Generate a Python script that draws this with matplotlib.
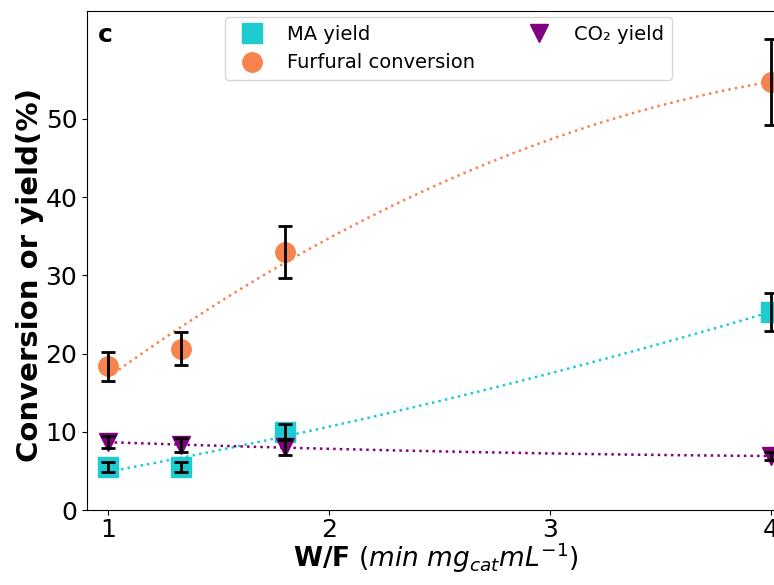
import numpy as np
import matplotlib
matplotlib.use("Agg")
import matplotlib.pyplot as plt

# W/F values and measured yields / conversion (%)
wf = [1.0, 1.33, 1.8, 4.0]
ma_yield = [5.5, 5.5, 10.0, 25.3]
ma_err = [0.6, 0.6, 0.95, 2.45]
furfural_conv = [18.4, 20.6, 33.0, 54.7]
furfural_err = [1.85, 2.1, 3.3, 5.5]
co2_yield = [8.7, 8.3, 8.0, 6.9]
co2_err = [0.8, 0.9, 1.0, 0.5]

c_ma = '#1ecbce'
c_fur = '#f7834f'
c_co2 = '#800080'

fig = plt.figure(figsize=(7.74, 5.85), dpi=100)
ax = fig.add_axes([87/774, 75/585, 706/774, 499/585])

xs = np.linspace(1, 4, 200)
series = [
    (ma_yield, ma_err, c_ma, 's', 'MA yield', 14),
    (furfural_conv, furfural_err, c_fur, 'o', 'Furfural conversion', 14),
    (co2_yield, co2_err, c_co2, 'v', 'CO\u2082 yield', 13.5),
]
for vals, err, col, mk, lab, ms in series:
    # quadratic trend line
    p = np.polyfit(wf, vals, 2)
    ax.plot(xs, np.polyval(p, xs), ':', color=col, lw=1.8, zorder=1)
    ax.plot(wf, vals, ls='none', marker=mk, ms=ms, color=col, label=lab, zorder=2)
    ax.errorbar(wf, vals, yerr=err, fmt='none', ecolor='black', elinewidth=2,
                capsize=5, capthick=2, zorder=3)

ax.set_xlim(0.905, 4.1)
ax.set_ylim(0, 63.8)
ax.set_xticks([1, 2, 3, 4])
ax.set_yticks([0, 10, 20, 30, 40, 50])
ax.tick_params(labelsize=18)
ax.tick_params(axis='x', pad=2)
ax.set_ylabel('Conversion or yield(%)', fontsize=21, fontweight='bold')
ax.yaxis.set_label_coords(-0.061, 0.471)
ax.set_xlabel(r'$\mathbf{W/F}$ ($min\ mg_{cat}mL^{-1}$)', fontsize=19)
ax.xaxis.set_label_coords(0.494, -0.062)
ax.text(0.0156, 0.938, 'c', transform=ax.transAxes, fontsize=18,
        fontweight='bold', va='baseline')

ax.legend(loc='upper center', bbox_to_anchor=(0.512, 1.0), ncol=2,
          fontsize=14, columnspacing=2.3, borderaxespad=0.3, frameon=True)

fig.savefig('out.png', dpi=100)
